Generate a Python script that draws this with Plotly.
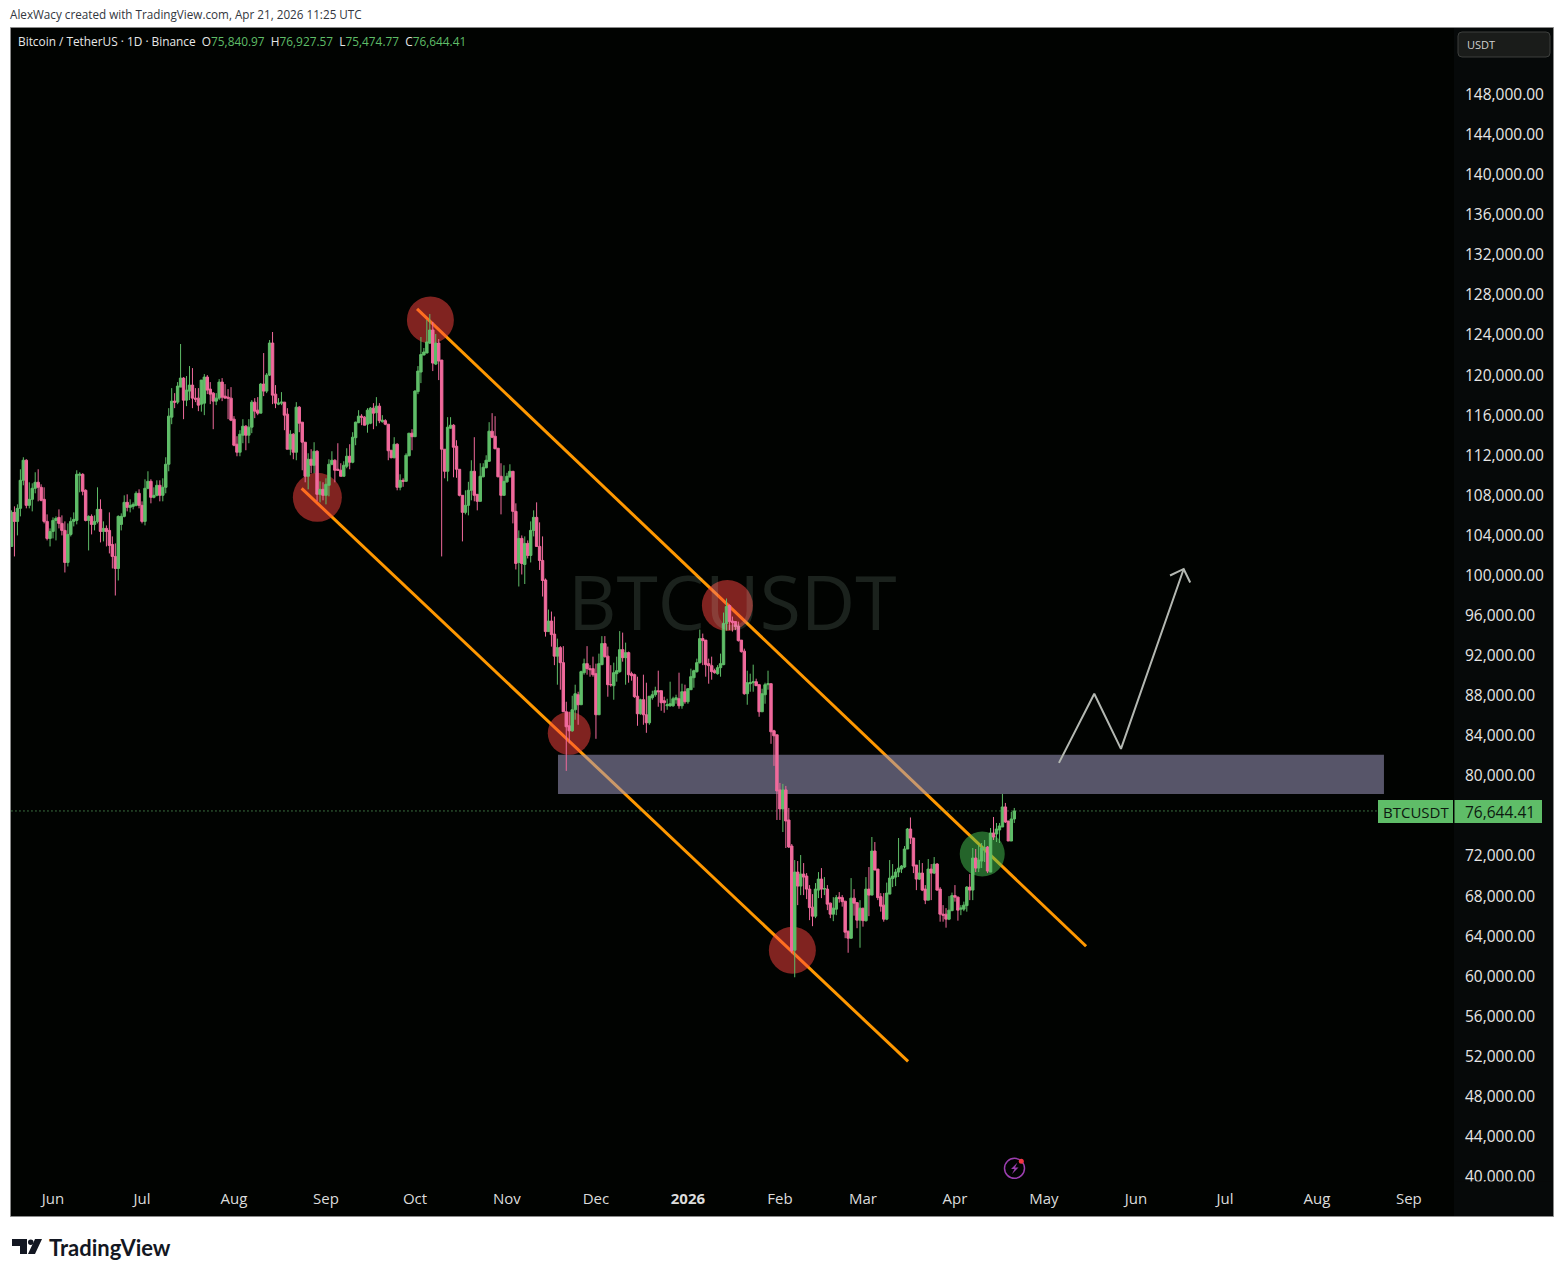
import pandas as pd
import plotly.graph_objects as go

W, H = 1564, 1277
FIRST_DAY = "2025-05-18"

# OHLC of the daily candles, in thousands of USDT
opens_k = [
102.9,106.3,105.4,106.7,109.5,111.5,107.0,107.6,108.7,109.3,
108.8,107.6,105.4,103.7,104.4,105.5,105.8,105.2,104.5,101.3,
104.1,105.4,105.5,110.0,110.1,108.5,105.5,105.9,105.1,105.4,
106.6,104.4,104.7,104.5,103.1,101.9,100.7,105.1,105.9,107.3,
106.8,106.9,107.0,108.2,107.0,105.4,108.7,109.4,107.8,108.0,
109.0,108.0,108.8,111.1,115.8,117.4,117.3,118.8,119.7,117.5,
118.4,119.0,117.7,117.7,117.1,117.2,119.8,118.6,118.2,117.4,
117.7,119.3,117.9,117.8,117.7,115.6,113.1,112.3,114.0,114.9,
114.0,114.8,117.3,116.5,116.2,119.1,118.4,120.0,123.2,118.1,
117.1,117.2,117.3,116.1,112.6,114.1,112.3,116.8,115.3,113.3,
109.9,111.6,111.0,112.4,108.1,108.6,108.0,109.0,111.1,111.5,
110.6,110.5,109.9,110.9,111.9,111.3,113.75,115.25,115.9,115.8,
115.1,115.2,116.7,116.25,116.9,115.35,115.45,115.1,112.5,111.75,
113.1,108.8,109.5,109.4,111.95,114.2,113.85,118.35,120.3,122.0,
122.2,123.2,124.5,121.1,123.2,121.5,112.6,110.4,114.7,115.0,
112.9,110.6,108.0,106.3,107.0,108.5,110.4,108.1,107.4,109.85,
110.75,111.4,114.4,113.9,112.7,109.9,108.0,109.35,109.85,110.4,
106.4,101.3,103.7,101.1,103.2,102.0,104.5,105.8,102.9,101.5,
99.55,94.4,95.45,94.15,91.95,92.8,91.3,86.4,85.0,84.5,
86.6,88.1,87.1,90.3,91.2,90.7,90.7,90.2,86.1,91.1,
93.2,91.95,89.1,89.0,90.2,90.4,92.6,91.8,92.3,90.2,
90.1,87.95,86.2,87.6,86.1,85.3,87.8,88.1,88.5,88.5,
87.5,87.0,87.0,87.0,87.6,87.7,87.0,88.4,87.4,88.6,
89.8,90.4,91.3,93.7,93.55,91.2,91.0,90.5,90.2,90.8,
91.1,95.2,97.0,95.45,95.4,94.95,93.55,92.45,88.2,89.2,
89.3,89.4,89.1,86.4,88.1,89.1,89.2,84.5,84.1,78.6,
76.7,78.6,75.6,73.0,62.6,70.4,69.0,70.2,70.0,68.7,
66.9,66.0,68.6,69.7,68.7,68.7,67.3,66.2,66.7,67.9,
67.85,67.5,64.5,63.8,67.8,67.35,65.6,66.8,65.55,68.7,
68.1,72.5,70.7,67.95,67.1,65.7,68.2,69.75,69.9,70.4,
70.7,70.9,72.7,74.7,73.8,71.1,69.7,70.3,68.7,67.6,
70.7,70.3,71.2,68.7,66.2,66.2,65.7,66.55,68.05,67.9,
66.7,66.7,67.05,68.9,68.6,71.8,70.8,71.5,72.8,72.9,
70.4,74.3,74.2,74.6,74.9,76.9,75.5,73.5,75.7]

highs_k = [
106.5,106.9,107.1,110.6,111.8,111.6,109.3,109.2,110.3,110.6,
109.1,108.8,106.1,104.7,105.8,105.9,106.6,106.0,105.4,105.2,
105.8,106.3,110.5,110.3,110.2,108.6,106.0,106.1,106.0,108.8,
107.6,105.4,105.0,106.3,103.9,103.2,106.0,106.2,108.0,108.1,
107.6,107.3,108.4,108.6,107.4,109.6,110.4,109.6,108.8,109.5,
109.5,109.7,111.8,116.7,118.7,118.2,119.3,123.1,119.8,119.9,
120.9,120.7,118.7,118.7,119.5,120.1,120.0,119.3,118.3,118.2,
119.6,119.7,119.1,118.6,118.8,115.9,113.9,114.5,115.6,115.0,
115.6,117.5,117.7,117.8,119.2,122.2,120.2,123.5,124.3,119.0,
117.7,118.3,117.3,116.7,114.5,114.2,117.3,116.9,115.3,113.3,
112.2,112.6,113.3,112.5,109.4,109.3,109.7,111.6,112.4,111.6,
113.2,111.2,111.4,112.7,113.1,114.3,115.35,116.5,116.1,115.9,
116.7,116.8,117.2,117.8,117.2,116.0,115.6,115.1,112.5,113.8,
113.2,110.1,109.7,112.2,114.2,114.6,118.5,120.9,123.8,122.7,
125.5,126.1,125.3,124.1,123.6,121.5,112.6,115.8,115.8,115.1,
113.5,110.6,108.0,108.5,109.35,111.5,113.8,108.1,111.2,111.2,
112.0,115.3,116.2,115.9,112.7,111.2,111.0,110.25,111.1,110.4,
107.2,104.5,104.0,103.9,103.5,105.4,106.5,107.3,105.3,103.9,
99.7,96.6,96.4,95.9,93.7,92.95,92.95,87.4,86.4,88.0,
89.1,88.4,90.5,91.7,92.95,91.05,91.9,91.2,92.2,93.95,
93.95,92.9,91.05,91.3,91.9,94.45,94.3,93.3,92.4,90.4,
90.2,89.9,87.7,90.1,89.3,87.95,88.5,88.9,90.5,88.5,
87.9,87.7,89.4,87.9,88.1,90.3,89.2,89.1,88.7,90.7,
90.6,91.7,94.6,94.2,93.55,91.7,91.9,90.7,91.05,92.2,
96.3,97.7,97.1,95.9,95.45,95.4,93.55,92.7,90.5,90.2,
91.1,89.7,89.1,88.7,89.3,90.5,89.2,84.6,84.1,79.3,
79.2,79.0,76.8,73.2,71.6,71.5,72.1,71.3,70.3,69.1,
68.2,69.3,70.4,70.8,69.9,69.1,67.35,67.9,68.1,68.4,
68.1,67.5,64.55,69.8,68.7,67.35,67.6,66.8,69.9,70.9,
73.9,73.4,70.7,68.3,68.3,69.35,71.6,71.2,70.7,73.8,
71.1,73.0,74.8,75.85,73.8,71.1,71.6,71.3,69.1,71.7,
71.2,71.9,71.3,68.9,67.1,66.8,68.0,68.35,69.1,67.95,
67.1,67.45,69.0,70.2,72.8,72.7,73.1,73.3,73.6,73.0,
74.8,75.9,75.3,75.3,78.2,77.3,75.5,76.4,76.8]

lows_k = [
102.9,101.9,104.0,105.9,109.0,106.7,106.7,106.4,108.2,107.4,
107.4,105.2,103.5,102.9,103.7,103.5,104.7,104.0,100.3,100.9,
103.9,104.9,105.1,108.3,108.0,105.4,102.5,104.1,104.5,105.2,
103.3,103.4,102.9,102.2,100.7,98.0,99.5,104.5,105.8,106.4,
106.3,106.6,106.9,106.7,105.2,105.0,108.6,107.2,107.7,107.9,
107.4,107.4,108.2,110.4,115.1,116.7,117.1,118.8,115.6,116.9,
117.5,116.7,117.3,116.4,116.35,116.0,118.1,117.1,114.6,117.0,
117.5,117.4,117.7,115.6,115.4,112.9,111.9,111.9,113.2,112.5,
113.2,114.2,115.7,116.0,116.2,117.9,118.2,119.9,117.1,116.7,
117.0,117.0,114.5,112.6,112.0,111.6,111.5,114.3,110.5,109.3,
108.6,110.2,110.2,107.4,107.3,107.5,107.1,107.9,111.0,109.3,
110.5,109.9,109.9,110.7,110.6,111.2,113.0,115.2,115.0,115.0,
114.25,115.1,114.6,114.9,115.2,115.25,115.0,111.5,111.7,111.7,
108.5,108.5,108.85,109.35,111.9,112.5,113.85,118.1,119.2,122.0,
122.2,123.1,120.4,121.0,119.5,101.9,109.7,109.4,114.65,109.8,
109.75,107.9,103.4,106.1,106.0,107.5,107.4,106.5,107.4,109.8,
110.7,111.35,113.7,112.6,109.8,106.1,108.0,109.25,109.75,105.2,
100.6,98.9,100.1,99.15,101.7,101.3,103.9,102.9,100.55,97.9,
93.9,94.4,92.9,91.05,89.1,88.6,86.4,80.5,83.25,84.4,
85.6,85.1,87.1,90.1,90.1,89.9,89.9,83.7,86.1,91.05,
91.8,87.9,88.9,87.6,89.4,90.3,91.4,89.1,89.3,89.5,
87.8,85.0,86.1,85.1,84.3,85.1,87.6,87.9,86.9,86.5,
86.3,86.6,86.9,86.9,87.2,86.7,86.7,87.2,87.2,88.6,
88.8,90.3,91.2,91.05,89.9,89.2,89.6,90.2,90.1,89.9,
91.05,94.5,94.55,94.4,94.55,93.4,92.3,88.1,87.1,88.4,
88.4,89.0,85.9,86.4,87.2,88.6,83.2,81.0,75.6,75.6,
74.4,72.8,72.8,62.3,59.9,67.1,68.1,68.1,67.7,65.6,
65.0,65.8,67.8,67.8,68.1,66.6,65.8,65.5,66.1,67.35,
66.95,63.8,62.35,63.75,66.05,64.8,62.85,64.95,65.45,66.0,
68.1,70.6,67.6,66.45,65.45,65.6,68.2,68.9,69.0,69.9,
70.3,70.8,72.7,73.2,70.3,68.6,69.6,68.5,67.2,67.6,
67.6,70.2,68.55,65.45,65.45,64.85,65.6,66.5,67.45,65.55,
66.1,66.5,66.45,67.6,67.6,70.4,70.4,70.8,71.4,70.3,
70.4,73.6,73.4,73.3,74.9,75.3,73.5,73.5,75.3]

closes_k = [
106.3,105.4,106.7,109.5,111.5,107.0,107.6,108.7,109.3,108.8,
107.5,105.4,103.7,104.4,105.5,105.7,105.2,104.5,101.3,104.1,
105.4,105.6,110.1,110.1,108.4,105.5,105.9,105.1,105.4,106.6,
104.4,104.7,104.4,103.0,101.9,100.7,105.9,105.9,107.3,106.8,
107.0,107.1,108.2,107.0,105.4,108.7,109.4,107.8,108.0,109.0,
108.0,108.8,111.1,115.9,117.4,117.3,118.9,119.7,117.5,118.5,
119.0,117.7,117.6,117.0,119.5,119.8,118.5,118.1,117.4,117.7,
119.3,117.8,117.7,117.7,115.5,113.0,112.3,114.1,114.9,114.0,
114.8,117.3,116.4,116.2,119.1,118.4,120.0,123.2,118.0,117.2,
117.2,117.3,116.0,112.6,114.1,112.3,116.8,115.2,113.3,109.9,
111.6,111.0,112.4,108.1,108.6,108.0,109.1,111.1,111.5,110.5,
110.5,109.9,111.0,111.9,111.3,113.8,115.3,115.9,115.8,115.0,
116.5,116.7,116.2,116.9,115.45,115.5,115.1,112.45,111.75,113.1,
108.8,109.5,109.4,112.0,114.2,113.85,118.4,120.4,122.05,122.3,
123.3,124.5,121.2,123.2,121.4,112.6,110.4,114.8,115.0,112.8,
110.6,108.0,106.3,107.0,108.5,110.4,108.0,107.4,109.9,110.8,
111.5,114.4,113.8,112.65,109.85,108.0,109.4,109.9,110.4,106.4,
101.2,103.7,101.2,103.2,102.0,104.5,105.8,102.9,101.5,99.5,
94.4,95.45,94.1,91.95,92.8,91.3,86.4,84.9,84.5,86.6,
88.2,87.1,90.4,91.2,90.7,90.6,90.1,86.1,91.2,93.2,
91.9,89.1,89.1,90.3,90.5,92.6,91.8,92.3,90.1,90.0,
87.9,86.2,87.6,86.1,85.3,87.95,88.1,88.5,88.4,87.3,
87.3,87.1,87.2,87.7,87.8,87.0,88.4,87.4,88.7,89.9,
90.5,91.3,93.7,93.5,91.1,91.0,90.4,90.3,90.8,91.2,
95.2,96.9,95.4,95.3,94.9,93.5,92.4,88.2,89.3,89.3,
89.4,89.0,86.4,88.2,89.1,89.2,84.4,84.0,78.5,76.7,
78.6,75.5,72.9,62.55,70.4,69.0,70.2,69.9,68.7,66.85,
66.0,68.7,69.7,68.7,68.75,67.2,66.2,66.8,67.85,67.75,
67.45,64.4,63.8,67.8,67.3,65.6,66.8,65.55,68.7,68.1,
72.5,70.6,67.85,67.0,65.7,68.3,69.8,70.0,70.4,70.8,
71.0,72.7,74.7,73.8,71.0,69.7,70.3,68.6,67.6,70.7,
70.3,71.2,68.6,66.2,66.1,65.7,66.6,68.05,67.9,66.6,
66.8,67.1,68.9,68.6,71.8,70.8,71.6,72.8,72.8,70.5,
74.3,73.9,74.7,75.0,76.9,75.4,73.5,75.7,76.5]

# Drawings on the chart: day offsets from 1 Jun 2025, prices in USDT
channel_upper_days = [122.7, 348.2]
channel_upper_prices = [126600, 63000]
channel_lower_days = [83.8, 288.2]
channel_lower_prices = [108700, 51500]
zone_days = [170.2, 448.6]
zone_prices = [78200, 82100]
red_circle_days = [127.2, 89.1, 227.3, 174.0, 249.2]
red_circle_prices = [125500, 107800, 97000, 84250, 62600]
red_circle_radii = [23.5, 24.5, 25.5, 21.5, 23.5]
green_circle_day = 313.2
green_circle_price = 72200
green_circle_radius = 22.5
arrow_days = [339.06, 350.96, 359.96, 381.1]
arrow_prices = [81300, 88200, 82700, 100650]
arrow_head_days = [376.5, 381.1, 383.3]
arrow_head_prices = [100000, 100650, 99300]

month_ticks = ["2025-06-01","2025-07-01","2025-08-01","2025-09-01","2025-10-01","2025-11-01","2025-12-01",
               "2026-01-01","2026-02-01","2026-03-01","2026-04-01","2026-05-01","2026-06-01","2026-07-01",
               "2026-08-01","2026-09-01"]
month_labels = ["Jun","Jul","Aug","Sep","Oct","Nov","Dec","<b>2026</b>","Feb","Mar","Apr","May","Jun","Jul","Aug","Sep"]
price_ticks = [40000,44000,48000,52000,56000,60000,64000,68000,72000,80000,84000,88000,92000,96000,100000,
               104000,108000,112000,116000,120000,124000,128000,132000,136000,140000,144000,148000]
last_price_line = 76500

GREEN, PINK, ORANGE = "#5fbd68", "#f06a9c", "#ff9800"
CHROME_FONT = "Open Sans"
CHART_BG = "#010301"

dates = pd.date_range(FIRST_DAY, periods=len(closes_k))
def scale(vals):
    return [v * 1000 for v in vals]
def day(n):
    return pd.Timestamp("2025-06-01") + pd.Timedelta(days=n)
def px(x):
    return x / W
def py(y):
    return 1 - y / H

fig = go.Figure()
fig.add_trace(go.Candlestick(
    x=dates, open=scale(opens_k), high=scale(highs_k), low=scale(lows_k), close=scale(closes_k),
    increasing=dict(line=dict(color=GREEN, width=1), fillcolor=GREEN),
    decreasing=dict(line=dict(color=PINK, width=1), fillcolor=PINK),
    whiskerwidth=0, showlegend=False, hoverinfo="skip"))

ARROW = "#b4b8b2"
fig.add_trace(go.Scatter(x=[day(d) for d in arrow_days], y=arrow_prices, mode="lines",
                         line=dict(color=ARROW, width=2), showlegend=False, hoverinfo="skip"))
fig.add_trace(go.Scatter(x=[day(d) for d in arrow_head_days], y=arrow_head_prices, mode="lines",
                         line=dict(color=ARROW, width=2), showlegend=False, hoverinfo="skip"))

shapes = []
def rect(x0, y0, x1, y1, fill, layer="above", line=None):
    shapes.append(dict(type="rect", xref="paper", yref="paper", x0=px(x0), x1=px(x1), y0=py(y0), y1=py(y1),
                       fillcolor=fill, line=line or dict(width=0), layer=layer))

# chart frame and axis strips
rect(10.5, 27.5, 1553.5, 1216.5, CHART_BG, "below", dict(color="#8a8a8a", width=1))
rect(1454, 28, 1553, 1216, "#060909", "below")

for ds, ps in [(channel_upper_days, channel_upper_prices), (channel_lower_days, channel_lower_prices)]:
    shapes.append(dict(type="line", xref="x", yref="y", x0=day(ds[0]), x1=day(ds[1]), y0=ps[0], y1=ps[1],
                       line=dict(color=ORANGE, width=3), layer="below"))
shapes.append(dict(type="rect", xref="x", yref="y", x0=day(zone_days[0]), x1=day(zone_days[1]),
                   y0=zone_prices[0], y1=zone_prices[1], fillcolor="rgba(158,153,191,0.55)",
                   line=dict(width=0), layer="below"))
shapes.append(dict(type="line", xref="x", yref="y", x0=dates[0], x1=day(448.4), y0=last_price_line, y1=last_price_line,
                   line=dict(color="#6fd078", width=1, dash="1px,3px"), layer="below"))
def circle(d, p, r, fill):
    shapes.append(dict(type="circle", xref="x", yref="y", xsizemode="pixel", ysizemode="pixel",
                       xanchor=day(d), yanchor=p, x0=-r, x1=r, y0=-r, y1=r,
                       fillcolor=fill, line=dict(width=0), layer="below"))
for d, p, r in zip(red_circle_days, red_circle_prices, red_circle_radii):
    circle(d, p, r, "rgba(255,68,64,0.5)")
circle(green_circle_day, green_circle_price, green_circle_radius, "rgba(72,198,84,0.5)")

# clip the lowest price label, as the pane edge does
rect(1455, 1181.5, 1553, 1216, "#060909")
# last price tags
rect(1378, 800, 1453, 823, GREEN)
rect(1454.5, 800, 1542, 823, GREEN)
# currency button
shapes.append(dict(type="path", xref="paper", yref="paper", layer="above",
                   path=f"M {px(1462)},{py(32)} L {px(1546)},{py(32)} Q {px(1550)},{py(32)} {px(1550)},{py(36)} "
                        f"L {px(1550)},{py(53)} Q {px(1550)},{py(57)} {px(1546)},{py(57)} L {px(1462)},{py(57)} "
                        f"Q {px(1458)},{py(57)} {px(1458)},{py(53)} L {px(1458)},{py(36)} Q {px(1458)},{py(32)} {px(1462)},{py(32)} Z",
                   fillcolor="#1a1c1a", line=dict(color="#3c3f3c", width=1)))
# event icon
shapes.append(dict(type="circle", xref="paper", yref="paper", x0=px(1004.5), x1=px(1024.5), y0=py(1158.3), y1=py(1178.3),
                   fillcolor="rgba(0,0,0,0)", line=dict(color="#9c3fb0", width=1.5), layer="above"))
shapes.append(dict(type="path", xref="paper", yref="paper", layer="above",
                   path=f"M {px(1017.5)},{py(1162.5)} L {px(1011)},{py(1169)} L {px(1014.5)},{py(1169)} L {px(1012)},{py(1174)} "
                        f"L {px(1018.5)},{py(1167.5)} L {px(1015)},{py(1167.5)} Z",
                   fillcolor="#9c3fb0", line=dict(width=0)))
shapes.append(dict(type="circle", xref="paper", yref="paper", x0=px(1018.8), x1=px(1023.8), y0=py(1158.8), y1=py(1163.8),
                   fillcolor="#f23645", line=dict(width=0), layer="above"))
# TradingView logo mark
shapes.append(dict(type="path", xref="paper", yref="paper", layer="above",
                   path=f"M {px(12)},{py(1239)} L {px(27)},{py(1239)} L {px(27)},{py(1254)} L {px(20)},{py(1254)} L {px(20)},{py(1246)} L {px(12)},{py(1246)} Z",
                   fillcolor="#131722", line=dict(width=0)))
shapes.append(dict(type="circle", xref="paper", yref="paper", x0=px(28), x1=px(33.5), y0=py(1239.5), y1=py(1245),
                   fillcolor="#131722", line=dict(width=0), layer="above"))
shapes.append(dict(type="path", xref="paper", yref="paper", layer="above",
                   path=f"M {px(35)},{py(1239)} L {px(42)},{py(1239)} L {px(35)},{py(1254)} L {px(28)},{py(1254)} Z",
                   fillcolor="#131722", line=dict(width=0)))

annotations = []
def text(x, y, s, size, color, anchor="left", family=CHROME_FONT, **kw):
    annotations.append(dict(xref="paper", yref="paper", x=px(x), y=py(y), text=s, showarrow=False, xanchor=anchor,
                            yanchor="middle", font=dict(size=size, color=color, family=family), **kw))

text(8, 14, "AlexWacy created with TradingView.com, Apr 21, 2026 11:25 UTC", 11.7, "#333740")
v = lambda s: f'<span style="color:{GREEN}">{s}</span>'
text(16, 41, f"Bitcoin / TetherUS · 1D · Binance  O{v('75,840.97')}  H{v('76,927.57')}  L{v('75,474.77')}  C{v('76,644.41')}",
     11.85, "#e8e8e8")
text(732, 601, "BTCUSDT", 75, "rgba(190,225,205,0.14)", "center")
text(1465, 44.5, "USDT", 11, "#d0d0d0")
text(1416, 811.5, "BTCUSDT", 15, "#0d1a10", "center")
text(1500, 811.5, "76,644.41", 15.5, "#0d1a10", "center")
text(47, 1247, "<b>TradingView</b>", 22, "#131722", family="Lato")

fig.update_layout(
    width=W, height=H, margin=dict(l=0, r=0, t=0, b=0), autosize=False,
    paper_bgcolor="#ffffff", plot_bgcolor="rgba(0,0,0,0)", showlegend=False, boxgap=0.18, boxgroupgap=0,
    shapes=shapes, annotations=annotations,
    xaxis=dict(type="date", domain=[px(11), px(1454)], anchor="y",
               range=["2025-05-17 20:09", "2026-09-16 05:00"], rangeslider=dict(visible=False),
               tickmode="array", tickvals=month_ticks, ticktext=month_labels, ticks="", ticklen=0,
               showgrid=False, zeroline=False, showline=False, ticklabelstandoff=2,
               tickfont=dict(size=15, color="#dcdcdc", family=CHROME_FONT)),
    yaxis=dict(type="linear", domain=[py(1186), py(28)], anchor="x", side="right",
               range=[39070, 154640], tickmode="array", tickvals=price_ticks, tickformat=",.2f", ticks="", ticklen=0,
               showgrid=False, zeroline=False, showline=False,
               tickfont=dict(size=15.5, color="#e6e6e6", family=CHROME_FONT), ticklabelstandoff=10),
)

fig.write_html("out.html", config=dict(displayModeBar=False),
               post_script="document.body.style.margin='0';document.body.style.overflow='hidden';")
